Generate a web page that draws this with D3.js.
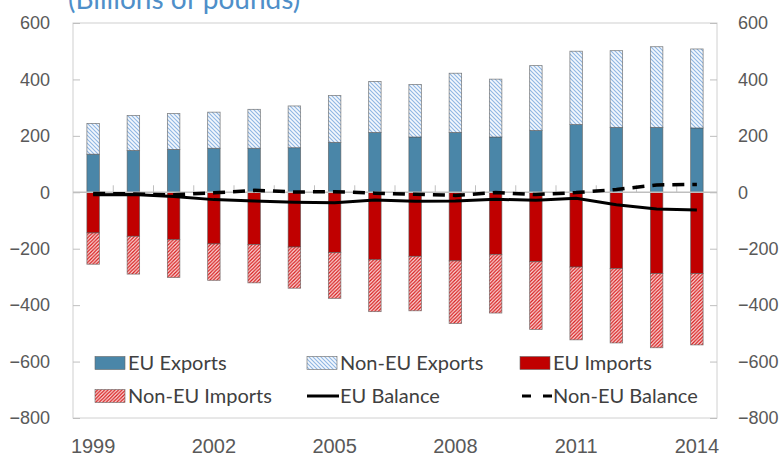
<!DOCTYPE html>
<html>
<head>
<meta charset="utf-8">
<script src="https://cdn.jsdelivr.net/npm/d3@7"></script>
<style>
  body { margin: 0; background: #fff; }
  svg { display: block; font-family: Lato, 'Noto Sans', sans-serif; }
  .axis text { fill: #595959; font-size: 18px; }
  .axis.years text { font-size: 20px; }
  .axis path { display: none; }
  .axis line { stroke: #bfbfbf; }
  .legend text { fill: #404040; font-size: 20px; }
</style>
</head>
<body>
<svg width="782" height="457"></svg>
<script>
  const years = d3.range(1999, 2015);
  const yearLabels = [1999, 2002, 2005, 2008, 2011, 2014];
  const yTicks = [-800, -600, -400, -200, 0, 200, 400, 600];

  // billions of pounds
  const euExports = [135, 148, 152, 156, 156, 158, 177, 212, 196, 212, 196, 219, 240, 230, 230, 228];
  const nonEuExports = [109, 124, 127, 128, 138, 148, 166, 181, 186, 210, 205, 230, 260, 272, 286, 280];
  const euImports = [-144, -156, -168, -183, -185, -194, -214, -239, -227, -243, -220, -246, -265, -270, -288, -288];
  const nonEuImports = [-111, -134, -134, -129, -136, -146, -162, -184, -193, -222, -208, -240, -258, -264, -263, -253];
  const euBalance = [-9, -8, -15, -26, -31, -35, -37, -27, -32, -31, -25, -28, -21, -44, -59, -63];
  const nonEuBalance = [-4, -6, -9, -2, 7, 1, 2, -3, -7, -11, -1, -8, -1, 10, 26, 28];

  const svg = d3.select('svg');

  const plotLeft = 73, plotRight = 717, plotTop = 23, plotBottom = 418;

  const xScale = d3.scaleBand()
    .domain(years)
    .range([plotLeft, plotRight])
    .paddingInner(0.69)
    .paddingOuter(0.345);

  const yScale = d3.scaleLinear()
    .domain([-800, 600])
    .range([plotBottom, plotTop]);

  // hatch patterns
  const defs = svg.append('defs');
  const blueHatch = defs.append('pattern')
    .attr('id', 'blueHatch')
    .attr('patternUnits', 'userSpaceOnUse')
    .attr('width', 4).attr('height', 4);
  blueHatch.append('rect').attr('width', 4).attr('height', 4).attr('fill', '#f4f8fd');
  blueHatch.append('path')
    .attr('d', 'M0,0 L4,4 M-1,3 L1,5 M3,-1 L5,1')
    .attr('stroke', '#8fb6e3').attr('stroke-width', 1.1);

  const redHatch = defs.append('pattern')
    .attr('id', 'redHatch')
    .attr('patternUnits', 'userSpaceOnUse')
    .attr('width', 3.5).attr('height', 3.5);
  redHatch.append('rect').attr('width', 3.5).attr('height', 3.5).attr('fill', '#fbe3e3');
  redHatch.append('path')
    .attr('d', 'M0,3.5 L3.5,0 M-1,1 L1,-1 M2.5,4.5 L4.5,2.5')
    .attr('stroke', '#d81c1c').attr('stroke-width', 1.3);

  // plot frame
  svg.append('rect')
    .attr('x', plotLeft).attr('y', plotTop)
    .attr('width', plotRight - plotLeft).attr('height', plotBottom - plotTop)
    .attr('fill', 'none')
    .attr('stroke', '#d0d0d0');

  // y axes, ticks pointing inside
  svg.append('g')
    .attr('class', 'axis')
    .attr('transform', `translate(${plotLeft},0)`)
    .call(d3.axisLeft(yScale).tickValues(yTicks).tickSizeInner(-7).tickSizeOuter(0).tickPadding(23));

  svg.append('g')
    .attr('class', 'axis')
    .attr('transform', `translate(${plotRight},0)`)
    .call(d3.axisRight(yScale).tickValues(yTicks).tickSizeInner(-7).tickSizeOuter(0).tickPadding(21));

  // year labels under the frame
  svg.append('g')
    .attr('class', 'axis years')
    .attr('transform', `translate(0,${plotBottom})`)
    .call(d3.axisBottom(xScale).tickValues(yearLabels).tickSize(0).tickPadding(21));

  // stacked bars
  const rows = years.map((y, i) => ({
    year: y,
    euExp: euExports[i], nonEuExp: nonEuExports[i],
    euImp: euImports[i], nonEuImp: nonEuImports[i]
  }));

  const segments = [];
  rows.forEach((r) => {
    segments.push({ year: r.year, y0: 0, y1: r.euExp, fill: '#4a86a8' });
    segments.push({ year: r.year, y0: r.euExp, y1: r.euExp + r.nonEuExp, fill: 'url(#blueHatch)' });
    segments.push({ year: r.year, y0: 0, y1: r.euImp, fill: '#c00000' });
    segments.push({ year: r.year, y0: r.euImp, y1: r.euImp + r.nonEuImp, fill: 'url(#redHatch)' });
  });

  svg.append('g')
    .selectAll('rect')
    .data(segments)
    .enter()
    .append('rect')
    .attr('x', (d) => xScale(d.year))
    .attr('width', xScale.bandwidth())
    .attr('y', (d) => yScale(Math.max(d.y0, d.y1)))
    .attr('height', (d) => Math.abs(yScale(d.y0) - yScale(d.y1)))
    .attr('fill', (d) => d.fill)
    .attr('stroke', '#555')
    .attr('stroke-opacity', 0.7)
    .attr('stroke-width', 0.8);

  // zero line with category ticks
  const gap = xScale.step() - xScale.bandwidth();
  svg.append('line')
    .attr('x1', plotLeft).attr('x2', plotRight)
    .attr('y1', yScale(0)).attr('y2', yScale(0))
    .attr('stroke', '#bfbfbf').attr('stroke-width', 1.5);
  svg.append('g')
    .selectAll('line')
    .data(years.slice(1))
    .enter()
    .append('line')
    .attr('x1', (d) => xScale(d) - gap / 2)
    .attr('x2', (d) => xScale(d) - gap / 2)
    .attr('y1', yScale(0) - 7)
    .attr('y2', yScale(0))
    .attr('stroke', '#bfbfbf');

  // balance lines
  const cx = (d, i) => xScale(years[i]) + xScale.bandwidth() / 2;
  const line = d3.line().x(cx).y((d) => yScale(d));

  svg.append('path')
    .datum(nonEuBalance)
    .attr('d', line)
    .attr('fill', 'none')
    .attr('stroke', '#000')
    .attr('stroke-width', 3.5)
    .attr('stroke-dasharray', '12,8');

  svg.append('path')
    .datum(euBalance)
    .attr('d', line)
    .attr('fill', 'none')
    .attr('stroke', '#000')
    .attr('stroke-width', 3);

  // legend
  const legendItems = [
    { name: 'EU Exports', fill: '#4a86a8', col: 0, row: 0 },
    { name: 'Non-EU Exports', fill: 'url(#blueHatch)', col: 1, row: 0 },
    { name: 'EU Imports', fill: '#c00000', col: 2, row: 0 },
    { name: 'Non-EU Imports', fill: 'url(#redHatch)', col: 0, row: 1 },
    { name: 'EU Balance', line: 'solid', col: 1, row: 1 },
    { name: 'Non-EU Balance', line: 'dash', col: 2, row: 1 }
  ];
  const colX = [95, 307, 520];
  const rowY = [363, 396];

  const legend = svg.append('g').attr('class', 'legend');
  const item = legend.selectAll('g')
    .data(legendItems)
    .enter()
    .append('g')
    .attr('transform', (d) => `translate(${colX[d.col]},${rowY[d.row]})`);

  item.filter((d) => d.fill)
    .append('rect')
    .attr('x', 0).attr('y', -6.5)
    .attr('width', 30).attr('height', 13)
    .attr('fill', (d) => d.fill)
    .attr('stroke', '#666')
    .attr('stroke-width', 0.6);

  item.filter((d) => d.line)
    .append('line')
    .attr('x1', (d) => d.line === 'dash' ? 2 : 0)
    .attr('x2', 32)
    .attr('y1', 0).attr('y2', 0)
    .attr('stroke', '#000')
    .attr('stroke-width', 3)
    .attr('stroke-dasharray', (d) => d.line === 'dash' ? '9,12' : null);

  item.append('text')
    .attr('x', 33)
    .attr('dy', '0.35em')
    .text((d) => d.name);

  // title, mostly cut off at the top like the original
  svg.append('text')
    .attr('x', 68)
    .attr('y', 9)
    .attr('fill', '#4f8fc9')
    .style('font-size', '28px')
    .text('(Billions of pounds)');
</script>
</body>
</html>
